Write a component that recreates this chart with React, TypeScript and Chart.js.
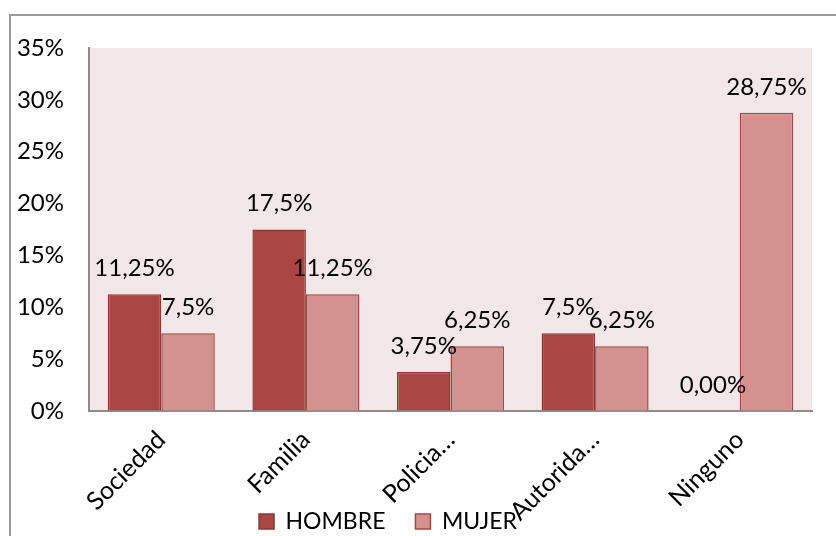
import React, { useEffect, useRef } from "react";
import { Chart, registerables } from "chart.js";

Chart.register(...registerables);

const categories = ["Sociedad", "Familia", "Policia…", "Autorida…", "Ninguno"];
const hombreValues = [11.25, 17.5, 3.75, 7.5, 0];
const mujerValues = [7.5, 11.25, 6.25, 6.25, 28.75];
const hombreLabels = ["11,25%", "17,5%", "3,75%", "7,5%", "0,00%"];
const mujerLabels = ["7,5%", "11,25%", "6,25%", "6,25%", "28,75%"];
const seriesNames = ["HOMBRE", "MUJER"];

const FONT = "Lato, 'Open Sans', sans-serif";
const LEGEND_PAD = 30;
const LEGEND_H = 23 + LEGEND_PAD + 10;

const bgPlugin = {
  id: "plotBg",
  beforeDraw(chart: any) {
    const { ctx, chartArea } = chart;
    ctx.save();
    ctx.fillStyle = "#f2e7e7";
    ctx.fillRect(chartArea.left, chartArea.top, chartArea.right - chartArea.left, chartArea.bottom - chartArea.top);
    ctx.restore();
  },
};

const labelPlugin = {
  id: "valueLabels",
  afterDatasetsDraw(chart: any) {
    const { ctx } = chart;
    const allLabels = [hombreLabels, mujerLabels];
    ctx.save();
    ctx.font = `24px ${FONT}`;
    ctx.fillStyle = "#000";
    ctx.textAlign = "center";
    ctx.textBaseline = "middle";
    chart.data.datasets.forEach((_: any, di: number) => {
      const meta = chart.getDatasetMeta(di);
      meta.data.forEach((el: any, i: number) => {
        ctx.fillText(allLabels[di][i], el.x, el.y - 26);
      });
    });
    ctx.restore();
  },
};

const layoutTweak = {
  id: "layoutTweak",
  afterLayout(chart: any) {
    const lg = chart.legend;
    if (lg) {
      const dx = -18;
      const dy = 7;
      lg.left += dx;
      lg.right += dx;
      lg.top += dy;
      lg.bottom += dy;
    }
    const xs = chart.scales.x;
    if (xs) xs.bottom = chart.height;
  },
};

export default function App() {
  const ref = useRef<HTMLCanvasElement>(null);
  useEffect(() => {
    if (!ref.current) return;
    Chart.defaults.font.family = FONT;
    const chart = new Chart(ref.current, {
      type: "bar",
      data: {
        labels: categories,
        datasets: [
          {
            label: seriesNames[0],
            data: hombreValues,
            backgroundColor: "#a94644",
            borderColor: "#8a3735",
            borderWidth: 1.5,
            categoryPercentage: 0.74,
            barPercentage: 1,
          },
          {
            label: seriesNames[1],
            data: mujerValues,
            backgroundColor: "#d39190",
            borderColor: "#a04846",
            borderWidth: 1.5,
            categoryPercentage: 0.74,
            barPercentage: 1,
          },
        ],
      },
      options: {
        responsive: false,
        animation: false,
        layout: { padding: { top: 48, right: 24, left: 0, bottom: 0 } },
        plugins: {
          legend: {
            position: "bottom",
            labels: {
              font: { size: 23, family: FONT },
              color: "#000",
              boxWidth: 15,
              boxHeight: 15,
              padding: LEGEND_PAD,
            },
          },
          tooltip: { enabled: false },
        },
        scales: {
          x: {
            grid: { display: true, color: "transparent", drawTicks: false, drawOnChartArea: false },
            border: { display: true, color: "#8c8c8c", width: 2 },
            ticks: {
              color: "#000",
              font: { size: 25, family: FONT },
              maxRotation: 45,
              minRotation: 45,
              padding: 14,
              autoSkip: false,
            },
            afterFit(scale: any) {
              scale.height = 536 - 411 - LEGEND_H;
            },
          },
          y: {
            min: 0,
            max: 35,
            grid: { display: true, color: "transparent", drawTicks: false, drawOnChartArea: false },
            border: { display: true, color: "#8c8c8c", width: 2 },
            ticks: {
              stepSize: 5,
              color: "#000",
              font: { size: 24, family: FONT },
              padding: 25,
              callback: (v: any) => v + "%",
            },
            afterFit(scale: any) {
              scale.width = 89;
            },
          },
        },
      },
      plugins: [bgPlugin, labelPlugin, layoutTweak],
    });
    return () => chart.destroy();
  }, []);

  return (
    <div style={{ position: "fixed", left: 0, top: 0, width: 836, height: 536, overflow: "hidden", background: "#fff" }}>
      <div
        style={{
          position: "absolute",
          left: 9,
          top: 14,
          width: 900,
          height: 700,
          border: "2px solid #9a9a9a",
          boxSizing: "border-box",
        }}
      />
      <canvas ref={ref} width={836} height={536} style={{ position: "absolute", left: 0, top: 0, display: "block" }} />
    </div>
  );
}
